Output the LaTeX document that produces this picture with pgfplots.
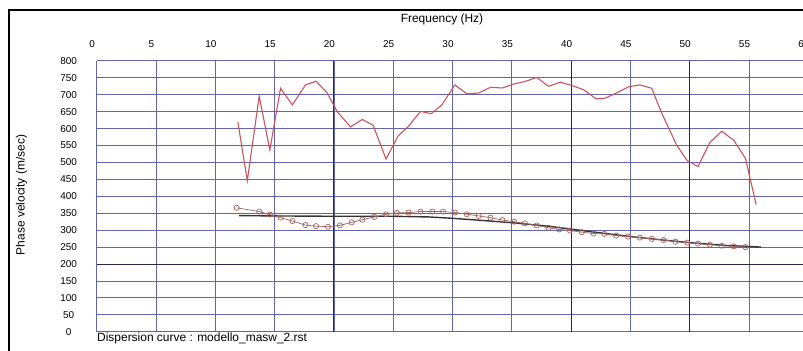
\documentclass[border=0pt]{standalone}
\usepackage{fontspec}
\setmainfont{Liberation Sans}
\usepackage{pgfplots}
\pgfplotsset{compat=1.18}
\definecolor{gridblue}{RGB}{100,100,170}
\definecolor{griddark}{RGB}{40,40,75}
\definecolor{expred}{RGB}{200,85,95}
\definecolor{circbrown}{RGB}{165,100,95}

\begin{document}
\begin{tikzpicture}[x=1bp,y=1bp]
\useasboundingbox (0,0) rectangle (803,350);
\clip (0,0) rectangle (803,350);
\fill[white] (0,0) rectangle (803,350);
\begin{axis}[
  at={(96.7bp,18.3bp)}, anchor=south west,
  scale only axis, width=711.6bp, height=270.8bp,
  xmin=0, xmax=60, ymin=0, ymax=800,
  xtick={0,5,...,60}, ytick={0,50,...,800},
  xticklabel pos=top,
  major tick length=0pt,
  axis line style={draw=none},
  grid=major,
  major grid style={gridblue, line width=0.8bp},
  extra x ticks={20,40,50}, extra x tick labels={},
  extra y ticks={200}, extra y tick labels={},
  extra tick style={grid=major, major grid style={griddark, line width=0.9bp}},
  ticklabel style={font=\fontsize{10}{12}\selectfont},
  /pgf/number format/assume math mode=true,
  xticklabel style={anchor=center, yshift=16.4bp, xshift=-4.5bp},
  yticklabel style={anchor=center, xshift=-28bp},
  clip=false,
]
% experimental curve
\addplot[expred, line width=1.1bp] coordinates {
(11.9,620) (12.7,446) (13.7,696) (14.6,537) (15.5,719) (16.5,670)
(17.6,729) (18.5,740) (19.4,707) (20.3,649) (21.4,605) (22.4,627)
(23.3,610) (24.4,510) (25.4,578) (26.3,607) (27.3,651) (28.2,644)
(29.1,670) (30.2,729) (31.2,703) (32.2,705) (33.2,722) (34.2,720)
(35.2,732) (36.1,739) (37.1,751) (38.1,725) (39.1,737) (40.1,727)
(41.1,714) (42.1,688) (42.9,690) (43.8,705) (44.9,724) (45.8,729)
(46.8,719) (47.6,649) (48.9,551) (49.8,505) (50.7,488) (51.7,559)
(52.7,592) (53.7,566) (54.7,512) (55.6,376)
};
% theoretical curve
\addplot[black!80, line width=1.4bp] coordinates {
(12,343) (15,342) (20,341) (25,341) (28,339) (30,335) (32,330)
(35,322) (38,312) (40,303) (42,294) (45,281) (48,270) (50,263)
(53,255) (56,250)
};
% numerical dispersion points
\addplot[circbrown, line width=0.7bp, mark=o, mark size=2.6bp,
  mark options={circbrown, line width=0.7bp}] coordinates {
(11.8,366) (13.7,355) (14.6,346) (15.5,337) (16.5,327) (17.6,315)
(18.5,312) (19.5,310) (20.5,314) (21.5,323) (22.4,331) (23.4,339)
(24.4,347) (25.3,351) (26.3,352) (27.3,355) (28.3,355) (29.2,355)
(30.2,352) (31.2,347) (32.2,342) (33.2,337) (34.2,330) (35.2,325)
(36.1,320) (37.1,314) (38.1,307) (39.0,302) (39.9,299) (40.9,294)
(41.9,290) (42.8,289) (43.8,284) (44.8,281) (45.8,278) (46.8,274)
(47.8,271) (48.8,266) (49.8,263) (50.7,260) (51.7,257) (52.7,254)
(53.7,252) (54.7,250)
};
\end{axis}
\draw[line width=1.6bp] (9,-20) -- (9,340) -- (830,340);
\node[font=\fontsize{12}{14}\selectfont] at (442,331) {Frequency (Hz)};
\node[rotate=90, font=\fontsize{12}{14}\selectfont] at (21.5,155) {Phase velocity (m/sec)};
\node[anchor=west, inner sep=0pt, font=\fontsize{12}{14}\selectfont] at (97,12) {Dispersion curve : modello\_masw\_2.rst};
\end{tikzpicture}
\end{document}
